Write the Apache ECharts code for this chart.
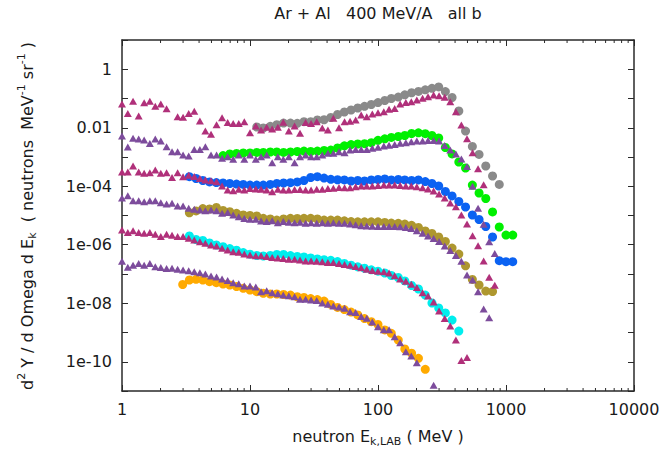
<!DOCTYPE html>
<html><head><meta charset="utf-8">
<script src="https://cdn.jsdelivr.net/npm/echarts@6/dist/echarts.min.js"></script>
<style>html,body{margin:0;padding:0;background:#fff}#c{width:663px;height:450px}</style>
</head><body><div id="c"></div>
<script>
// ---- data ----
const titleText = 'Ar + Al   400 MeV/A   all b';
const xTicks = [1, 10, 100, 1000, 10000];
const yTicks = [1, 0.01, 1e-4, 1e-6, 1e-8, 1e-10];

// energies of the model (triangle) points, MeV
const triE = [1.00,1.11,1.22,1.35,1.49,1.65,1.82,2.01,2.23,2.46,2.72,3.00,3.32,3.67,4.06,4.48,4.96,5.48,6.05,6.69,7.39,8.17,9.03,
  10.0,11.1,12.2,13.5,14.9,16.5,18.2,20.1,22.3,24.6,27.2,30.0,33.2,36.7,40.6,44.8,49.6,54.8,60.5,66.9,73.9,81.7,90.3,
  100,111,122,135,149,165,182,201,223,246,272,300,332,367,406,448,496,548,605,669,739,817,903];
// energies of the measured (circle) points, MeV
const circE = [2.98,3.36,3.79,4.28,4.83,5.46,6.16,6.95,7.85,8.86,
  10.0,11.3,12.7,14.4,16.2,18.3,20.7,23.4,26.4,29.8,33.6,37.9,42.8,48.3,54.6,61.6,69.5,78.5,88.6,
  100,113,127,144,162,183,207,234,264,298,336,379,428,483,546,616,695,785,886,1000,1129];

// triangles (magenta / purple)
const triA = [6.5e-2,3.1e-2,8.1e-2,2.5e-2,7.1e-2,8.1e-2,5.4e-2,6.5e-2,4.5e-2,null,
  2.4e-2,2.3e-2,3.1e-2,3.7e-2,1.7e-2,7.8e-3,6.0e-3,1.26e-2,2.2e-2,1.5e-2,
  1.4e-2,1.4e-2,1.6e-2,6.8e-3,1.15e-2,8.3e-3,1.05e-2,9.1e-3,1.05e-2,1.55e-2,
  7.8e-3,1.15e-2,6.5e-3,1.5e-2,1.4e-2,1.6e-2,9.8e-3,8.3e-3,2.1e-2,1.0e-2,
  1.6e-2,1.66e-2,1.84e-2,2.75e-2,2.4e-2,2.95e-2,3.24e-2,3.55e-2,4.27e-2,4.57e-2,
  6.46e-2,7.24e-2,7.76e-2,8.91e-2,0.102,0.115,0.132,0.123,0.110,7.76e-2,
  3.55e-2,1.23e-2,4.17e-3,1.41e-3,3.98e-4,1.12e-4];
const triB = [5.2e-3,2.2e-3,4.4e-3,4.1e-3,3.8e-3,2.9e-3,4.1e-3,3.55e-3,2.25e-3,1.52e-3,
  1.5e-3,1.17e-3,1.08e-3,1.82e-3,1.82e-3,2.25e-3,1.17e-3,1.17e-3,9.0e-4,1.02e-3,
  8.3e-4,1.17e-3,8.3e-4,1.17e-3,8.3e-4,1.02e-3,1.17e-3,6.4e-4,1.02e-3,8.3e-4,
  1.02e-3,6.4e-4,1.02e-3,1.17e-3,1.02e-3,1.02e-3,1.17e-3,1.34e-3,1.34e-3,1.52e-3,
  1.40e-3,1.73e-3,1.82e-3,1.82e-3,1.82e-3,2.0e-3,2.14e-3,2.40e-3,2.51e-3,2.69e-3,
  2.95e-3,3.09e-3,3.31e-3,3.55e-3,3.55e-3,3.63e-3,3.63e-3,3.55e-3,2.45e-3,1.74e-3,
  1.26e-3,8.5e-4,4.7e-4,1.0e-4,1.78e-5,5.0e-6,1.26e-6,5.0e-7];
const triC = [3.1e-4,3.1e-4,4.9e-4,3.1e-4,2.8e-4,2.9e-4,3.6e-4,2.8e-4,2.9e-4,2.0e-4,
  2.9e-4,2.1e-4,2.4e-4,2.15e-4,1.84e-4,1.64e-4,1.55e-4,1.43e-4,1.02e-4,7.4e-5,
  7.0e-5,7.9e-5,7.4e-5,8.4e-5,8.0e-5,7.9e-5,7.4e-5,6.5e-5,7.9e-5,7.4e-5,
  7.4e-5,7.7e-5,7.7e-5,7.4e-5,7.4e-5,7.9e-5,7.9e-5,8.4e-5,8.5e-5,9.1e-5,
  8.9e-5,8.9e-5,9.7e-5,1.02e-4,1.02e-4,1.02e-4,1.06e-4,1.10e-4,1.10e-4,1.10e-4,
  1.06e-4,1.02e-4,1.02e-4,9.7e-5,8.9e-5,8.0e-5,6.9e-5,5.4e-5,4.0e-5,2.7e-5,
  2.0e-5,1.04e-5,5.1e-6,2.04e-6,9.3e-7,2.8e-7,7.7e-8,4.1e-8];
const triD = [4.0e-5,4.7e-5,3.2e-5,3.2e-5,2.95e-5,3.2e-5,3.2e-5,2.75e-5,2.45e-5,2.6e-5,
  2.1e-5,2.1e-5,1.78e-5,1.62e-5,1.55e-5,1.45e-5,1.55e-5,1.45e-5,1.2e-5,1.26e-5,
  1.05e-5,9.1e-6,7.9e-6,7.4e-6,7.4e-6,6.5e-6,6.2e-6,6.6e-6,5.6e-6,6.2e-6,
  5.9e-6,5.6e-6,5.9e-6,5.4e-6,5.6e-6,5.4e-6,5.6e-6,5.4e-6,5.6e-6,5.4e-6,
  5.4e-6,5.1e-6,4.8e-6,4.5e-6,4.4e-6,4.3e-6,4.2e-6,4.2e-6,4.2e-6,4.2e-6,
  4.1e-6,3.9e-6,3.6e-6,3.0e-6,2.45e-6,2.0e-6,1.62e-6,1.29e-6,9.1e-7,6.3e-7,
  4.3e-7,2.75e-7,9.3e-8,6.2e-8,2.45e-8,6.3e-9,3.2e-9];
const triE2 = [3.2e-6,2.6e-6,3.0e-6,2.6e-6,2.45e-6,2.6e-6,2.3e-6,1.9e-6,2.3e-6,2.1e-6,
  1.9e-6,1.9e-6,1.66e-6,1.45e-6,1.26e-6,1.12e-6,9.8e-7,9.1e-7,7.6e-7,6.6e-7,
  5.75e-7,5.5e-7,4.8e-7,4.5e-7,4.2e-7,4.2e-7,4.0e-7,3.7e-7,3.5e-7,3.4e-7,
  3.2e-7,3.2e-7,3.0e-7,2.8e-7,2.8e-7,2.75e-7,2.6e-7,2.45e-7,2.45e-7,2.3e-7,
  2.1e-7,2.0e-7,1.82e-7,1.62e-7,1.45e-7,1.32e-7,1.23e-7,1.2e-7,1.08e-7,8.7e-8,
  6.7e-8,5.6e-8,4.5e-8,3.45e-8,2.3e-8,1.77e-8,1.1e-8,5.4e-9,3.0e-9,1.67e-9,
  5.5e-10,1.1e-10,1.41e-10];
const triF = [2.75e-7,1.7e-7,2.0e-7,2.3e-7,2.0e-7,2.3e-7,1.78e-7,1.66e-7,1.55e-7,1.58e-7,
  1.45e-7,1.38e-7,1.29e-7,1.2e-7,1.1e-7,1.0e-7,8.5e-8,7.9e-8,6.8e-8,6.0e-8,
  5.0e-8,4.6e-8,3.9e-8,3.9e-8,3.6e-8,2.45e-8,2.7e-8,2.3e-8,2.1e-8,1.9e-8,
  1.82e-8,1.66e-8,1.38e-8,1.38e-8,1.29e-8,1.23e-8,1.02e-8,9.3e-9,8.1e-9,7.4e-9,
  6.8e-9,5.1e-9,4.8e-9,3.5e-9,3.1e-9,2.3e-9,1.58e-9,1.23e-9,1.23e-9,7.2e-10,
  4.5e-10,2.2e-10,1.58e-10,9.3e-11,null,null,1.58e-11];

// circles (measured), aligned with circE
const grayY = [null,null,null,null,null,null,null,null,null,null,null,
  1.06e-2,9.8e-3,1.12e-2,1.27e-2,1.45e-2,1.45e-2,1.42e-2,1.61e-2,1.61e-2,1.84e-2,
  1.88e-2,2.24e-2,2.84e-2,3.45e-2,4.05e-2,4.73e-2,5.41e-2,6.24e-2,7.24e-2,8.55e-2,
  0.100,0.112,0.134,0.157,0.175,0.198,0.223,0.249,0.173,0.108,
  3.74e-2,7.7e-3,2.29e-3,1.22e-3,4.92e-4,2.24e-4,1.15e-4];
const greenY = [null,null,null,null,null,null,
  1.12e-3,1.27e-3,1.32e-3,1.37e-3,1.37e-3,1.43e-3,1.43e-3,1.48e-3,1.48e-3,1.43e-3,
  1.48e-3,1.54e-3,1.60e-3,1.54e-3,1.60e-3,1.67e-3,1.73e-3,2.03e-3,2.42e-3,2.67e-3,
  2.78e-3,2.85e-3,3.08e-3,3.72e-3,4.19e-3,4.65e-3,5.02e-3,5.43e-3,6.35e-3,6.71e-3,
  6.25e-3,5.43e-3,4.47e-3,2.11e-3,1.27e-3,6.75e-4,4.21e-4,1.10e-4,5.87e-5,3.81e-5,
  1.32e-5,4.05e-6,2.15e-6,2.15e-6];
const blueY = [null,
  2.12e-4,1.84e-4,1.57e-4,1.40e-4,1.34e-4,1.29e-4,1.24e-4,1.19e-4,1.15e-4,1.10e-4,
  1.10e-4,1.10e-4,1.15e-4,1.24e-4,1.29e-4,1.32e-4,1.40e-4,1.57e-4,1.99e-4,2.12e-4,
  1.91e-4,1.73e-4,1.67e-4,1.64e-4,1.51e-4,1.57e-4,1.51e-4,1.64e-4,1.70e-4,1.77e-4,
  1.64e-4,1.70e-4,1.64e-4,1.57e-4,1.64e-4,1.45e-4,1.24e-4,1.02e-4,6.62e-5,4.65e-5,
  3.01e-5,1.95e-5,1.04e-5,7.29e-6,4.21e-6,1.84e-6,2.85e-7,2.63e-7,2.63e-7];
const oliveY = [null,
  1.24e-5,1.43e-5,1.73e-5,1.67e-5,1.88e-5,1.48e-5,1.35e-5,1.19e-5,1.04e-5,1.0e-5,
  9.6e-6,8.0e-6,7.6e-6,7.0e-6,7.6e-6,8.0e-6,7.9e-6,8.0e-6,8.0e-6,7.6e-6,
  7.0e-6,7.0e-6,7.0e-6,6.6e-6,6.2e-6,6.1e-6,6.1e-6,6.1e-6,6.1e-6,5.8e-6,
  5.5e-6,5.4e-6,5.1e-6,4.6e-6,3.9e-6,2.95e-6,2.43e-6,1.84e-6,1.29e-6,7.7e-7,
  4.8e-7,1.9e-7,6.5e-8,4.2e-8,2.6e-8,2.5e-8];
const cyanY = [null,
  1.99e-6,1.51e-6,1.40e-6,1.15e-6,9.8e-7,8.6e-7,7.4e-7,6.5e-7,5.4e-7,4.75e-7,
  4.29e-7,4.12e-7,4.29e-7,4.65e-7,4.65e-7,4.26e-7,3.96e-7,3.81e-7,3.52e-7,3.26e-7,
  3.08e-7,2.94e-7,2.67e-7,2.29e-7,2.0e-7,1.76e-7,1.57e-7,1.39e-7,1.25e-7,1.08e-7,
  8.9e-8,7.6e-8,5.8e-8,4.05e-8,3.07e-8,1.91e-8,1.02e-8,6.9e-9,4.65e-9,2.67e-9,1.12e-9];
const orangeY = [4.38e-8,6.24e-8,6.59e-8,6.24e-8,5.46e-8,5.05e-8,4.55e-8,4.21e-8,3.74e-8,3.24e-8,
  2.84e-8,2.48e-8,2.19e-8,2.07e-8,2.07e-8,1.99e-8,1.91e-8,1.67e-8,1.57e-8,1.45e-8,
  1.34e-8,1.19e-8,9.1e-9,7.2e-9,6.1e-9,5.0e-9,4.0e-9,3.0e-9,2.34e-9,1.88e-9,
  1.22e-9,9.4e-10,5.5e-10,2.73e-10,1.95e-10,1.31e-10,5.5e-11];

// ---- chart ----
const FONT = '"DejaVu Sans", sans-serif';
const INK = '#1a1a1a';
const MAGENTA = '#b0307a', PURPLE = '#7d4c9c';
const NB = s => s.replace(/ /g, '\u00a0'); // keep runs of spaces visible

function pairs(xs, ys) {
  const out = [];
  ys.forEach((y, i) => { if (y != null) out.push([xs[i], y]); });
  return out;
}
function circ(name, ys, color) {
  return { name, type: 'scatter', symbol: 'circle', symbolSize: 9, data: pairs(circE, ys),
    itemStyle: { color: color, opacity: 1 }, silent: true };
}
function tri(name, ys, color) {
  return { name, type: 'scatter', symbol: 'triangle', symbolSize: [8, 7], data: pairs(triE, ys),
    itemStyle: { color: color, opacity: 1 }, silent: true };
}
function yFmt(v) {
  const e = Math.round(Math.log10(v));
  if (e % 2 !== 0 || e > 0) return '';
  if (e === 0) return '1';
  if (e === -2) return '0.01';
  const n = -e;
  return '1e-' + (n < 10 ? '0' + n : '' + n);
}

const chart = echarts.init(document.getElementById('c'), null, { renderer: 'svg' });
const axisLine = { show: true, lineStyle: { color: '#2a2a2a', width: 1.5 } };
const tick = { show: true, inside: true, length: 6, lineStyle: { color: '#2a2a2a', width: 1 } };

chart.setOption({
  animation: false,
  backgroundColor: '#fff',
  grid: { left: 122, right: 29, top: 40, bottom: 59, show: false },
  xAxis: [
    { type: 'log', logBase: 10, min: xTicks[0], max: xTicks[xTicks.length - 1], interval: 1,
      position: 'bottom', axisLine, axisTick: tick, splitLine: { show: false },
      axisLabel: { fontSize: 16, color: INK, fontFamily: FONT, margin: 10,
        formatter: v => String(Math.round(v)) } },
    { type: 'log', logBase: 10, min: xTicks[0], max: xTicks[xTicks.length - 1], interval: 1,
      position: 'top', axisLine, axisTick: tick, splitLine: { show: false }, axisLabel: { show: false } }
  ],
  yAxis: [
    { type: 'log', logBase: 10, min: 1e-11, max: 10, interval: 1, position: 'left',
      axisLine, axisTick: tick, splitLine: { show: false },
      axisLabel: { fontSize: 16, color: INK, fontFamily: FONT, margin: 10, formatter: yFmt } },
    { type: 'log', logBase: 10, min: 1e-11, max: 10, interval: 1, position: 'right',
      axisLine, axisTick: tick, splitLine: { show: false }, axisLabel: { show: false } }
  ],
  series: [
    circ('gray', grayY, '#8a8a8a'),
    circ('green', greenY, '#00f000'),
    circ('blue', blueY, '#0b62f2'),
    circ('olive', oliveY, '#ae972f'),
    circ('cyan', cyanY, '#00eeee'),
    circ('orange', orangeY, '#ffaa00'),
    tri('A', triA, MAGENTA),
    tri('B', triB, PURPLE),
    tri('C', triC, MAGENTA),
    tri('D', triD, PURPLE),
    tri('E', triE2, MAGENTA),
    tri('F', triF, PURPLE)
  ]
});

// minor ticks on the log x axis (2..9 in each decade), bottom and top
const els = [];
const plotTop = 40, plotBottom = 391;
for (let d = 0; d < 4; d++) {
  for (let m = 2; m <= 9; m++) {
    const v = m * Math.pow(10, d);
    const px = chart.convertToPixel({ xAxisIndex: 0 }, v);
    els.push({ type: 'line', silent: true, shape: { x1: px, y1: plotBottom, x2: px, y2: plotBottom - 3 },
      style: { stroke: '#2a2a2a', lineWidth: 1 } });
    els.push({ type: 'line', silent: true, shape: { x1: px, y1: plotTop, x2: px, y2: plotTop + 3 },
      style: { stroke: '#2a2a2a', lineWidth: 1 } });
  }
}
const plotMidX = (122 + 634) / 2;
const subStyle = { fontSize: 11, lineHeight: 11, verticalAlign: 'bottom', fill: INK, fontFamily: FONT };
const supStyle = { fontSize: 11, lineHeight: 11, verticalAlign: 'top', fill: INK, fontFamily: FONT };
els.push({ type: 'text', silent: true, x: plotMidX, y: 13,
  style: { text: NB(titleText), fill: INK, fontSize: 16, fontFamily: FONT, align: 'center', verticalAlign: 'middle' } });
els.push({ type: 'text', silent: true, x: plotMidX, y: 436,
  style: { text: NB('neutron E') + '{sub|k,LAB}' + NB(' ( MeV )'), fill: INK, fontSize: 16, fontFamily: FONT, lineHeight: 22,
    align: 'center', verticalAlign: 'middle', rich: { sub: subStyle } } });
els.push({ type: 'text', silent: true, x: 27, y: 216, rotation: Math.PI / 2,
  style: { text: 'd{sup|2}' + NB(' Y / d Omega d E') + '{sub|k}' + NB('  ( neutrons  MeV') + '{sup|-1}' + NB(' sr') + '{sup|-1}' + NB(' )'),
    fill: INK, fontSize: 16, fontFamily: FONT, lineHeight: 22, align: 'center', verticalAlign: 'middle',
    rich: { sup: supStyle, sub: subStyle } } });
chart.setOption({ graphic: { elements: els } });
</script>
</body></html>
